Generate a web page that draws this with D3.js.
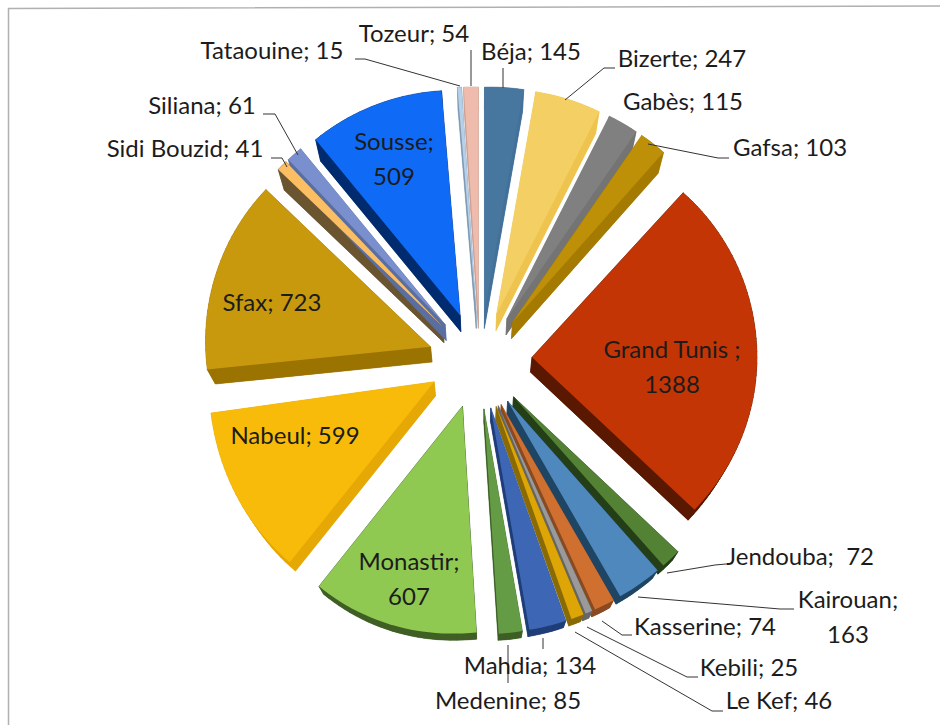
<!DOCTYPE html>
<html><head><meta charset="utf-8">
<script src="https://cdn.jsdelivr.net/npm/d3@7/dist/d3.min.js"></script>
<style>html,body{margin:0;padding:0;background:#fff}svg{display:block}text{font-family:Lato,"Open Sans",sans-serif;font-size:24px;fill:#1c1c1c}</style>
</head><body><svg id="c" width="940" height="725"></svg>
<script>
const names=["Béja","Bizerte","Gabès","Gafsa","Grand Tunis","Jendouba","Kairouan","Kasserine","Kebili","Le Kef","Mahdia","Medenine","Monastir","Nabeul","Sfax","Sidi Bouzid","Siliana","Sousse","Tataouine","Tozeur"];
const values=[145,247,115,103,1388,72,163,74,25,46,134,85,607,599,723,41,61,509,15,54];
const colors=["#47769f","#f4d064","#808080","#bd9008","#c43505","#548235","#4f88bd","#d07030","#9a9a9a","#dda606","#3d66b5","#649c45","#8fc952","#f8bb0a","#c8990c","#fcbe62","#7a90ce","#0f6bf5","#b7d0e8","#eebbad"];
const wallColors=["#44719a","#eec44f","#747474","#a57a00","#5a1800","#243f18","#1f4565","#8a4a20","#666666","#8a6a05","#1f3e78","#3d5f25","#3f5f24","#e5a805","#9a7300","#6a5530","#5a6ea0","#002b6e","#7f9ab5","#c9a094"];
// label text lines, in the order of names
const labelLines=[["Béja; 145"],["Bizerte; 247"],["Gabès; 115"],["Gafsa; 103"],["Grand Tunis ;","1388"],["Jendouba;  72"],["Kairouan;","163"],["Kasserine; 74"],["Kebili; 25"],["Le Kef; 46"],["Mahdia; 134"],["Medenine; 85"],["Monastir;","607"],["Nabeul; 599"],["Sfax; 723"],["Sidi Bouzid; 41"],["Siliana; 61"],["Sousse;","509"],["Tataouine; 15"],["Tozeur; 54"]];
// layout: label centres (x, y of first line)
const labelPos=[[531,52],[682,59],[683,102],[790,148],[672,350],[800,557],[848,600],[705,627],[749,668],[779,701],[530,666],[508,701],[409,562],[295,436],[272,303],[185,149],[202,106],[394,142],[272,51],[414,34]];
const leaders=[[[503,68],[503,88]],[[615,68],[604,68],[565,100]],[],[[729,158],[718,158],[648,144]],[],[[726,564],[715,565],[667,573]],[[794,609],[780,609],[638,597]],[[632,635],[622,635],[602,621]],[[698,677],[687,677],[587,627]],[[723,711],[712,711],[575,632]],[[543,638],[543,649]],[[508,645],[508,683]],[],[],[],[[271,158],[282,158],[287,167]],[[263,114],[275,114],[298,155]],[],[[355,59],[365,59],[460,86]],[[471,50],[471,86]]];

const cx=480,cy=357,R=225,explode=52,shrink=0.03,drop=15;
const svg=d3.select("#c");
svg.append("path").attr("d","M8.5,725V8.5L940,6").attr("fill","none").attr("stroke","#b0b0b0").attr("stroke-width",1.5);

// perspective of the tilted chart: lower half twists, upper half is pushed down near the axis
const warp=p=>{
  const x=p[0]-cx,y=p[1]-cy;
  if(y>0){
    const th=Math.min(1,y/150)*(0.05+0.00012*x);
    return [p[0]+th*y,p[1]-th*x+(x<0?0.04*y*(-x)/200:0)];
  }
  return [p[0],p[1]+7*Math.max(0,1-Math.abs(x)/300)];
};
const arcs=d3.pie().sort(null).startAngle(0).endAngle(2*Math.PI)(values);
const topFace=a=>{
  const mid=(a.startAngle+a.endAngle)/2;
  const ox=cx+explode*Math.sin(mid),oy=cy-explode*Math.cos(mid);
  const pts=[[ox,oy]];
  const n=Math.max(2,Math.ceil((a.endAngle-a.startAngle)/0.03));
  d3.range(n+1).forEach(i=>{const t=a.startAngle+(a.endAngle-a.startAngle)*i/n;
    pts.push([ox+R*Math.sin(t),oy-R*Math.cos(t)]);});
  return pts.map(warp);
};
const low=p=>[cx+(p[0]-cx)*(1-shrink),cy+(p[1]-cy)*(1-shrink)+drop];
const line=d3.line();
const tops=arcs.map(topFace);
const gW=svg.append("g"),gT=svg.append("g");
tops.forEach((pts,i)=>{
  const loop=pts.concat([pts[0]]);
  gW.append("path").attr("d",line(pts.map(low))+"Z").attr("fill",wallColors[i]);
  d3.pairs(loop).forEach(([p,q])=>{
    gW.append("path").attr("d",line([p,q,low(q),low(p)])+"Z").attr("fill",wallColors[i]).attr("stroke",wallColors[i]).attr("stroke-width",.5);
  });
  gT.append("path").attr("d",line(pts)+"Z").attr("fill",colors[i]);
});
const gL=svg.append("g");
leaders.forEach(l=>{if(l.length)gL.append("path").attr("d",line(l)).attr("fill","none").attr("stroke","#333").attr("stroke-width",1);});
labelLines.forEach((ls,i)=>{
  const t=svg.append("text").attr("text-anchor","middle").attr("y",labelPos[i][1]).style("white-space","pre");
  ls.forEach((s,j)=>t.append("tspan").attr("x",labelPos[i][0]).attr("dy",j?"35px":"0.35em").text(s));
});
</script></body></html>
